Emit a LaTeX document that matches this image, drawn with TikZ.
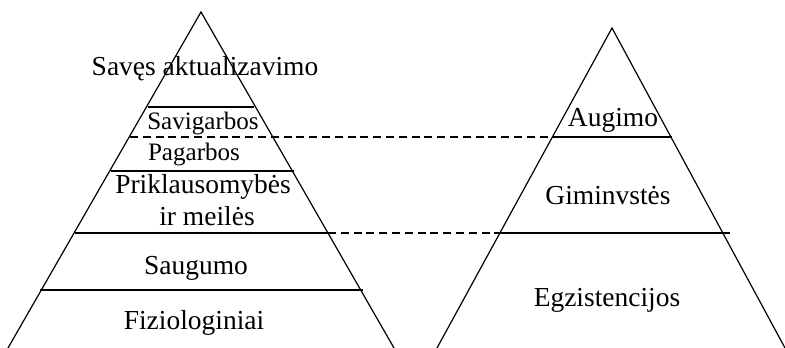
\documentclass[tikz,border=0pt]{standalone}
\usepackage{fontspec}
\setmainfont{Liberation Serif}
\usepackage{tikz}
\usetikzlibrary{calc}

\begin{document}
\begin{tikzpicture}[x=0.75pt, y=-0.75pt, line width=0.9pt,
    lvl/.style={font=\fontsize{20.6}{24}\selectfont, anchor=base, inner sep=0pt},
    lvlsmall/.style={font=\fontsize{18.8}{22}\selectfont, anchor=base, inner sep=0pt},
    link/.style={dash pattern=on 6pt off 3.6pt, line width=0.8pt}]
    \useasboundingbox (0,0) rectangle (785,348);

    % Kairioji piramidė: Maslow
    \coordinate (MTop) at (201,12);
    \coordinate (MLeft) at (8,348);
    \coordinate (MRight) at (394,348);
    \draw (MLeft) -- (MTop) -- (MRight);

    \coordinate (M1a) at (148,107);  \coordinate (M1b) at (254,107);
    \coordinate (M2a) at (130,137);  \coordinate (M2b) at (273,137);
    \coordinate (M3a) at (111,171);  \coordinate (M3b) at (294,171);
    \coordinate (M4a) at (75,233);   \coordinate (M4b) at (328,233);
    \coordinate (M5a) at (40,290);   \coordinate (M5b) at (363,290);
    \draw (M1a) -- (M1b);
    \draw (M3a) -- (M3b);
    \draw (M4a) -- (M4b);
    \draw (M5a) -- (M5b);

    \node[lvl] (saves) at (205,76) {Savęs aktualizavimo};
    \node[lvlsmall] (savig) at (203,130) {Savigarbos};
    \node[lvlsmall] (pagarb) at (194,161) {Pagarbos};
    \node[lvl] (prikl) at (203,194) {Priklausomybės};
    \node[lvl] (meile) at (207,226) {ir meilės};
    \node[lvl] (saug) at (196,275) {Saugumo};
    \node[lvl] (fiziol) at (194,330) {Fiziologiniai};

    % Dešinioji piramidė: Alderfer
    \coordinate (ATop) at (612,28);
    \coordinate (ALeft) at (437,348);
    \coordinate (ARight) at (785,348);
    \draw (ALeft) -- (ATop) -- (ARight);

    \coordinate (A1a) at (553,137);  \coordinate (A1b) at (672,137);
    \coordinate (A2a) at (500,233);  \coordinate (A2b) at (730,233);
    \draw (A1a) -- (A1b);
    \draw (A2a) -- (A2b);

    \node[lvl] (augimo) at (613,127) {Augimo};
    \node[lvl] (gimin) at (608,205) {Giminvstės};
    \node[lvl] (egzist) at (607,307) {Egzistencijos};

    % Ryšiai tarp lygių
    \draw[link] (M2a) -- (A1a);
    \draw[link] (M4b) -- (A2a);
\end{tikzpicture}
\end{document}
